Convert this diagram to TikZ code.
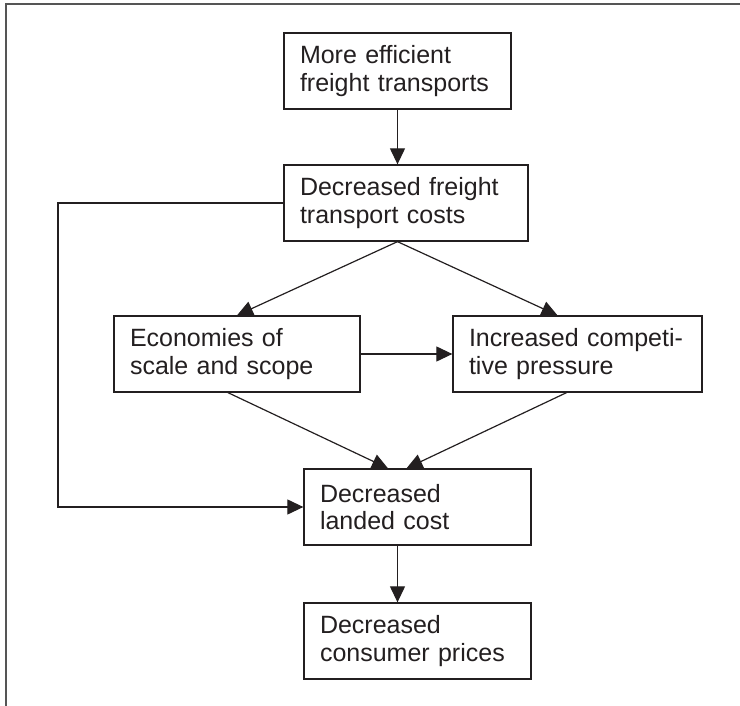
\documentclass[tikz,border=0pt]{standalone}
\usepackage{fontspec}
\setmainfont{Liberation Sans}
\usetikzlibrary{arrows.meta}
\definecolor{ink}{HTML}{231F20}
\definecolor{framec}{HTML}{555555}
\begin{document}
\begin{tikzpicture}[x=1pt,y=-1pt,
  box/.style={draw=ink,line width=1.3pt,rectangle,inner xsep=16pt,inner ysep=0pt,
    minimum height=76pt,align=left,text=ink,
    font=\fontsize{25}{27.5}\selectfont},
  conn/.style={draw=ink,line width=1.2pt,-{Triangle[length=16pt,width=15pt]}},
  plain/.style={draw=ink,line width=1.2pt}]
\useasboundingbox (0,0) rectangle (740,706);
\draw[framec,line width=1.6pt] (6,706) -- (6,4) -- (740,4);

\node[box,text width=195pt] (B1) at (397.5,71) {\mbox{More efficient}\\\mbox{freight transports}};
\node[box,text width=212pt] (B2) at (406,203) {\mbox{Decreased freight}\\\mbox{transport costs}};
\node[box,text width=214pt] (B3) at (237,354) {\mbox{Economies of}\\\mbox{scale and scope}};
\node[box,text width=217pt] (B4) at (577.5,354) {\mbox{Increased competi-}\\\mbox{tive pressure}};
\node[box,text width=195pt] (B5) at (417.5,507) {\mbox{Decreased}\\\mbox{landed cost}};
\node[box,text width=195pt] (B6) at (417.5,641) {\mbox{Decreased}\\\mbox{consumer prices}};

\coordinate (b2s) at (B1.south |- B2.south);
\coordinate (b4n) at ([xshift=-20pt]B4.north);
\coordinate (b3s) at ([xshift=-9pt]B3.south);
\coordinate (b4s) at ([xshift=-11pt]B4.south);
\coordinate (b5na) at ([xshift=-29.5pt]B5.north);
\coordinate (b5nb) at ([xshift=-11pt]B5.north);
\coordinate (b5s) at (B1.south |- B5.south);
\coordinate (b6n) at (B1.south |- B6.north);
\coordinate (fbtop) at (58,203);
\coordinate (fbbot) at (58,507);

\path[conn] (B1.south) -- (B1.south |- B2.north);
\path[conn] (b2s) -- (B3.north);
\path[conn] (b2s) -- (b4n);
\path[conn] (B3.east) -- (B4.west);
\path[conn] (b3s) -- (b5na);
\path[conn] (b4s) -- (b5nb);
\path[conn] (b5s) -- (b6n);
\path[conn] (B2.west) -- (fbtop) -- (fbbot) -- (B5.west);
\end{tikzpicture}
\end{document}
